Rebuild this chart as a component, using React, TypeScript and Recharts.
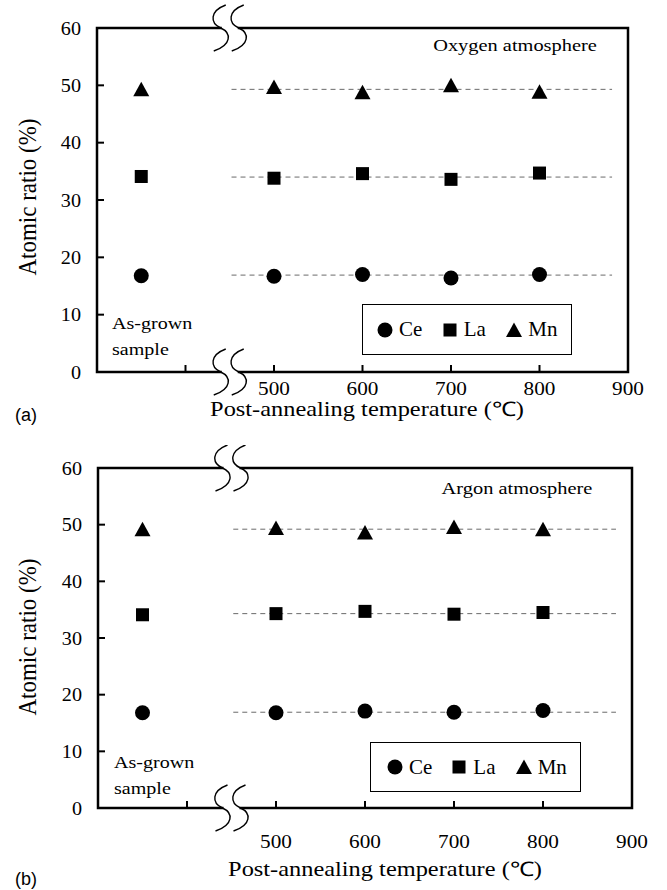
import React from 'react';
import {
  ScatterChart,
  Scatter,
  XAxis,
  YAxis,
  ReferenceArea,
  ReferenceLine,
  ReferenceDot,
} from 'recharts';

// ---- data ----
// x position of the "As-grown sample" column (left of the axis break), then annealing temperatures (°C)
const samplePositions = [350, 500, 600, 700, 800];
const xTickValues = [400, 500, 600, 700, 800, 900];
const xLabelValues = [500, 600, 700, 800, 900];
const yTickValues = [0, 10, 20, 30, 40, 50, 60];
const breakPosition = 450;

const elementNames = ['Ce', 'La', 'Mn'];

// Oxygen atmosphere (panel a)
const oxygenCe = [16.8, 16.7, 17.0, 16.4, 17.0];
const oxygenLa = [34.1, 33.8, 34.6, 33.6, 34.7];
const oxygenMn = [49.3, 49.7, 48.8, 50.0, 48.9];
const oxygenMeans = [16.9, 34.0, 49.3];

// Argon atmosphere (panel b)
const argonCe = [16.8, 16.8, 17.1, 16.9, 17.2];
const argonLa = [34.1, 34.3, 34.7, 34.2, 34.5];
const argonMn = [49.2, 49.4, 48.6, 49.6, 49.2];
const argonMeans = [16.9, 34.3, 49.2];

const meanLineStart = 452;
const meanLineEnd = 882;

const SERIF = "'Liberation Serif', 'Times New Roman', Times, serif";
const SANS = "'Liberation Sans', Arial, Helvetica, sans-serif";

const toPoints = (vals: number[]) => vals.map((v, i) => ({ x: samplePositions[i], y: v }));

// text with a slight horizontal stretch (the reference glyphs are wide)
const SText = ({
  x,
  y,
  size,
  sx = 1.18,
  anchor = 'start',
  family = SERIF,
  children,
}: any) => (
  <text
    x={0}
    y={0}
    transform={`translate(${x},${y}) scale(${sx},1)`}
    textAnchor={anchor}
    fontFamily={family}
    fontSize={size}
    style={{ fontFamily: family }}
    fill="#000"
  >
    {children}
  </text>
);

// ---- marker shapes ----
const CircleMark = (p: any) => <circle cx={p.cx} cy={p.cy} r={7.5} fill="#000" />;
const SquareMark = (p: any) => (
  <rect x={p.cx - 6.5} y={p.cy - 6.5} width={13} height={13} fill="#000" />
);
const TriangleMark = (p: any) => (
  <path d={`M${p.cx},${p.cy - 7.5} L${p.cx + 8},${p.cy + 7} L${p.cx - 8},${p.cy + 7} Z`} fill="#000" />
);
const markShapes = [CircleMark, SquareMark, TriangleMark];

const BreakMark = (p: any) => {
  const { cx, cy } = p;
  if (cx == null || cy == null) return <g />;
  const s = (x0: number) =>
    `M${x0 + 5},${cy - 23} C${x0 - 11},${cy - 17} ${x0 - 11},${cy - 5} ${x0},${cy} C${x0 + 11},${cy + 5} ${x0 + 11},${cy + 17} ${x0 - 7},${cy + 23}`;
  return (
    <g>
      <rect x={cx - 8} y={cy - 3} width={16} height={6} fill="#fff" />
      <path d={s(cx - 9)} fill="none" stroke="#000" strokeWidth={1.4} />
      <path d={s(cx + 9)} fill="none" stroke="#000" strokeWidth={1.4} />
    </g>
  );
};

const makeXTick = (labelDy: number) => (p: any) => {
  const { x, y, payload } = p;
  const v = payload.value;
  return (
    <g>
      {v < 900 && <line x1={x} x2={x} y1={y} y2={y - 7} stroke="#000" strokeWidth={2} />}
      {xLabelValues.includes(v) && (
        <SText x={x} y={y + labelDy} size={18} sx={1.18} anchor="middle">
          {v}
        </SText>
      )}
    </g>
  );
};

const YTick = (p: any) => {
  const { x, y, payload } = p;
  return (
    <g>
      <line x1={x} x2={x + 7} y1={y} y2={y} stroke="#000" strokeWidth={2} />
      <SText x={x - 16} y={y + 6.5} size={18} sx={1.12} anchor="end">
        {payload.value}
      </SText>
    </g>
  );
};

const LegendIcon = ({ i }: { i: number }) => (
  <svg width={16} height={16} style={{ display: 'block' }}>
    {i === 0 && <circle cx={8} cy={8} r={7.5} fill="#000" />}
    {i === 1 && <rect x={1.5} y={1.5} width={13} height={13} fill="#000" />}
    {i === 2 && <path d="M8,0.5 L16,15 L0,15 Z" fill="#000" />}
  </svg>
);

type PanelProps = {
  series: number[][];
  means: number[];
  atmosphere: string;
  tag: string;
  margin: { top: number; right: number; bottom: number; left: number };
  xLabelDy: number;
  legend: { left: number; top: number; width: number; height: number; pad: number };
  xTitle: { x: number; y: number };
  yTitleCenter: number;
  atmPos: { x: number; y: number };
  asGrownY: number;
  asGrownX: number;
  tagY: number;
};

const Panel = (props: PanelProps) => {
  const { series, means, margin } = props;
  const XTick = makeXTick(props.xLabelDy);
  return (
    <div style={{ position: 'relative', width: 667, height: 445 }}>
      <ScatterChart width={667} height={445} margin={margin}>
        <XAxis
          type="number"
          dataKey="x"
          domain={[300, 900]}
          ticks={xTickValues}
          interval={0}
          axisLine={false}
          tickLine={false}
          tickSize={0}
          tickMargin={0}
          tick={XTick}
          height={40}
          allowDataOverflow
        />
        <YAxis
          type="number"
          dataKey="y"
          domain={[0, 60]}
          ticks={yTickValues}
          interval={0}
          axisLine={false}
          tickLine={false}
          tickSize={0}
          tickMargin={0}
          tick={YTick}
          width={60}
          allowDataOverflow
        />
        <ReferenceArea x1={300} x2={900} y1={0} y2={60} fill="none" stroke="#000" strokeWidth={2.5} />
        {means.map((m, i) => (
          <ReferenceLine
            key={'m' + i}
            segment={[
              { x: meanLineStart, y: m },
              { x: meanLineEnd, y: m },
            ]}
            stroke="#6a6a6a"
            strokeWidth={1}
            strokeDasharray="5 4"
          />
        ))}
        {series.map((vals, i) => (
          <Scatter
            key={elementNames[i]}
            name={elementNames[i]}
            data={toPoints(vals)}
            shape={markShapes[i]}
            isAnimationActive={false}
          />
        ))}
        <ReferenceDot x={breakPosition} y={60} r={0} shape={BreakMark} ifOverflow="visible" />
        <ReferenceDot x={breakPosition} y={0} r={0} shape={BreakMark} ifOverflow="visible" />
      </ScatterChart>
      <svg
        width={667}
        height={445}
        style={{ position: 'absolute', left: 0, top: 0, pointerEvents: 'none' }}
      >
        <SText x={props.xTitle.x} y={props.xTitle.y} size={20} sx={1.22} anchor="middle">
          Post-annealing temperature (℃)
        </SText>
        <text
          x={0}
          y={0}
          transform={`translate(36, ${props.yTitleCenter}) rotate(-90) scale(1, 1.1)`}
          textAnchor="middle"
          fontFamily={SERIF}
          style={{ fontFamily: SERIF }}
          fontSize={23}
          fill="#000"
        >
          Atomic ratio (%)
        </text>
        <SText x={props.atmPos.x} y={props.atmPos.y} size={17} sx={1.2} anchor="middle">
          {props.atmosphere}
        </SText>
        <SText x={props.asGrownX} y={props.asGrownY} size={17} sx={1.18}>
          As-grown
        </SText>
        <SText x={props.asGrownX} y={props.asGrownY + 26} size={17} sx={1.18}>
          sample
        </SText>
        <SText x={15} y={props.tagY} size={18} sx={1} family={SANS}>
          {props.tag}
        </SText>
      </svg>
      <div
        style={{
          position: 'absolute',
          left: props.legend.left,
          top: props.legend.top,
          width: props.legend.width,
          height: props.legend.height,
          boxSizing: 'border-box',
          border: '1.5px solid #000',
          background: '#fff',
          display: 'flex',
          alignItems: 'center',
          paddingLeft: props.legend.pad,
          fontFamily: SERIF,
          fontSize: 21,
        }}
      >
        {elementNames.map((n, i) => (
          <div key={n} style={{ display: 'flex', alignItems: 'center', width: 69 }}>
            <LegendIcon i={i} />
            <span style={{ marginLeft: 6, lineHeight: '21px' }}>{n}</span>
          </div>
        ))}
      </div>
    </div>
  );
};

export default function App() {
  return (
    <div style={{ position: 'absolute', left: 0, top: 0, width: 667, height: 890, background: '#fff' }}>
      <Panel
        series={[oxygenCe, oxygenLa, oxygenMn]}
        means={oxygenMeans}
        atmosphere="Oxygen atmosphere"
        tag="(a)"
        margin={{ top: 28, right: 39, bottom: 33, left: 37 }}
        xLabelDy={23}
        legend={{ left: 362, top: 304, width: 210, height: 51, pad: 14 }}
        xTitle={{ x: 367, y: 416 }}
        yTitleCenter={197}
        atmPos={{ x: 515, y: 51 }}
        asGrownX={112}
        asGrownY={329}
        tagY={421}
      />
      <Panel
        series={[argonCe, argonLa, argonMn]}
        means={argonMeans}
        atmosphere="Argon atmosphere"
        tag="(b)"
        margin={{ top: 23, right: 35, bottom: 42, left: 38 }}
        xLabelDy={40}
        legend={{ left: 370, top: 297, width: 211, height: 50, pad: 16 }}
        xTitle={{ x: 385, y: 431 }}
        yTitleCenter={192}
        atmPos={{ x: 517, y: 49 }}
        asGrownX={114}
        asGrownY={323}
        tagY={440}
      />
    </div>
  );
}
